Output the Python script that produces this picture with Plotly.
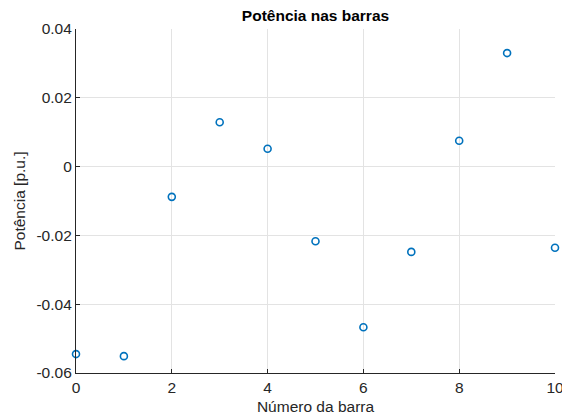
import plotly.graph_objects as go

barras = [0, 1, 2, 3, 4, 5, 6, 7, 8, 9, 10]
potencia = [-0.0545, -0.0551, -0.0088, 0.0129, 0.0052, -0.0217, -0.0467, -0.0248, 0.0075, 0.0330, -0.0236]

x_ticks = [0, 2, 4, 6, 8, 10]
y_ticks = [-0.06, -0.04, -0.02, 0, 0.02, 0.04]
y_tick_text = ["-0.06", "-0.04", "-0.02", "0", "0.02", "0.04"]

axis_col = "#262626"
grid_col = "#e3e3e3"
font_fam = "Liberation Sans, Arial, sans-serif"
fs = 15.5

fig = go.Figure(go.Scatter(
    x=barras, y=potencia, mode="markers", cliponaxis=False,
    marker=dict(symbol="circle-open", size=7, color="#0072BD",
                line=dict(width=1.6, color="#0072BD")),
    showlegend=False,
))

fig.update_layout(
    width=562, height=420,
    margin=dict(l=76, r=7, t=29, b=47),
    paper_bgcolor="white", plot_bgcolor="white",
    font=dict(family=font_fam, size=fs, color=axis_col),
    title=dict(text="<b>Potência nas barras</b>", x=(76 + 555) / 2 / 562, xanchor="center",
               y=1 - 16 / 420, yanchor="middle",
               font=dict(size=fs, color="black", family=font_fam)),
)

fig.update_xaxes(
    range=[0, 10], tickvals=x_ticks, ticktext=[str(v) for v in x_ticks],
    showgrid=True, gridcolor=grid_col, gridwidth=1,
    showline=True, linecolor=axis_col, linewidth=1.2,
    ticks="inside", ticklen=4, tickcolor=axis_col, ticklabeloverflow="allow",
    zeroline=False, tickfont=dict(size=fs, color=axis_col), automargin=False,
    title=dict(text="Número da barra", font=dict(size=fs, color=axis_col), standoff=6),
)
fig.update_yaxes(
    range=[-0.06, 0.04], tickvals=y_ticks, ticktext=y_tick_text,
    showgrid=True, gridcolor=grid_col, gridwidth=1,
    showline=True, linecolor=axis_col, linewidth=1.2,
    ticks="inside", ticklen=4, tickcolor=axis_col, ticklabeloverflow="allow",
    zeroline=False, tickfont=dict(size=fs, color=axis_col), automargin=False,
    title=dict(text="Potência [p.u.]", font=dict(size=fs, color=axis_col), standoff=7),
)

fig.write_html("out.html", config={"displayModeBar": False},
               post_script="document.body.style.margin='0';")
